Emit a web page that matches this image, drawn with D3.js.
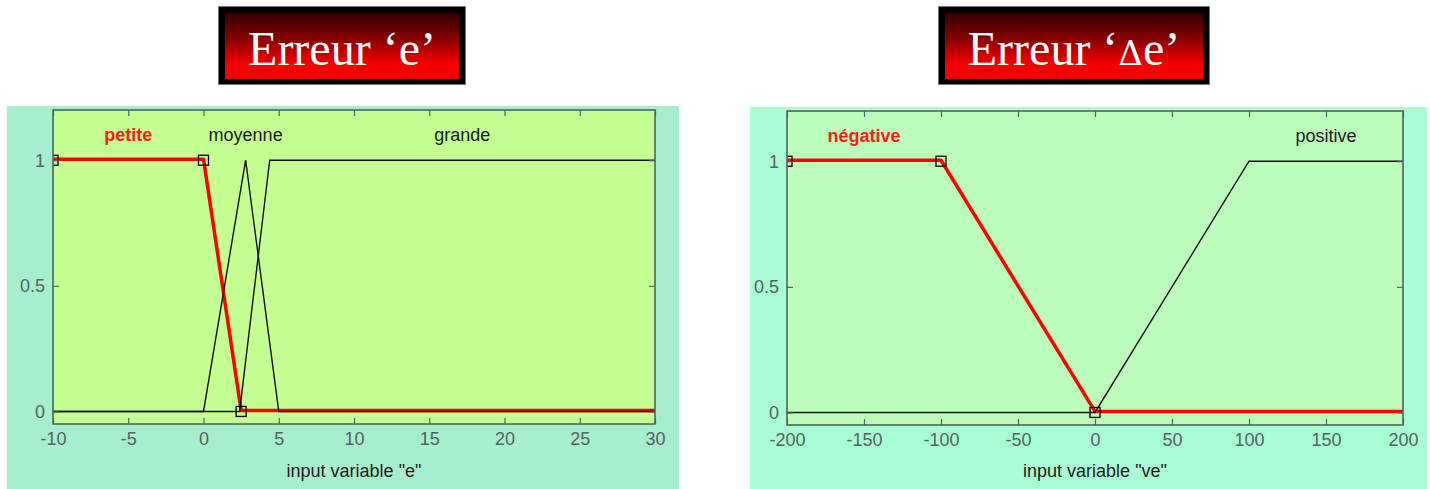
<!DOCTYPE html>
<html>
<head>
<meta charset="utf-8">
<script src="https://cdn.jsdelivr.net/npm/d3@7"></script>
<style>
  html, body { margin: 0; padding: 0; background: #ffffff; }
  svg { display: block; }
</style>
</head>
<body>
<svg id="chart" width="1430" height="489"></svg>
<script>
// ---- Variable "e" ----
const eDomain = [-10, 30];
const eTicks = [-10, -5, 0, 5, 10, 15, 20, 25, 30];
const eSetNames = ["petite", "moyenne", "grande"];
// trapezoid parameters [a, b, c, d]
const eSetParams = [
  [-10, -10, 0, 2.5],
  [0, 2.8, 2.8, 5],
  [2.4, 4.4, 30, 30]
];
const eSelected = 0;

// ---- Variable "ve" ----
const veDomain = [-200, 200];
const veTicks = [-200, -150, -100, -50, 0, 50, 100, 150, 200];
const veSetNames = ["négative", "positive"];
const veSetParams = [
  [-200, -200, -100, 0],
  [0, 100, 200, 200]
];
const veSelected = 0;

const yTicks = [0, 0.5, 1];
const yTickLabels = ["0", "0.5", "1"];

const svg = d3.select("#chart");
const defs = svg.append("defs");

// gradient for title plates
const grad = defs.append("linearGradient")
  .attr("id", "plateGrad").attr("x1", 0).attr("y1", 0).attr("x2", 0).attr("y2", 1);
grad.append("stop").attr("offset", "0%").attr("stop-color", "#320000");
grad.append("stop").attr("offset", "40%").attr("stop-color", "#8a0000");
grad.append("stop").attr("offset", "78%").attr("stop-color", "#f60000");
grad.append("stop").attr("offset", "100%").attr("stop-color", "#f20000");

function titlePlate(x, w, build) {
  const g = svg.append("g");
  g.append("rect").attr("x", x - 0.5).attr("y", 6.5).attr("width", w + 1).attr("height", 78)
    .attr("fill", "none").attr("stroke", "#777").attr("stroke-width", 1);
  g.append("rect").attr("x", x).attr("y", 7).attr("width", w).attr("height", 77).attr("fill", "#000");
  g.append("rect").attr("x", x + 6).attr("y", 13).attr("width", w - 12).attr("height", 66)
    .attr("fill", "url(#plateGrad)");
  const t = g.append("text")
    .attr("x", x + w / 2).attr("y", 65)
    .attr("text-anchor", "middle")
    .attr("font-family", "'Liberation Serif', 'Times New Roman', serif")
    .attr("font-size", 48)
    .attr("fill", "#ffffff");
  build(t);
}

titlePlate(219, 246, t => t.text("Erreur \u2018e\u2019"));
titlePlate(939, 270, t => {
  t.append("tspan").text("Erreur \u2018");
  t.append("tspan").attr("font-size", 34).attr("font-family", "'DejaVu Serif', serif").text("\u0394");
  t.append("tspan").text("e\u2019");
});

function trap(p, x) {
  const [a, b, c, d] = p;
  if (x < a || x > d) return 0;
  if (x >= b && x <= c) return 1;
  if (x < b) return (x - a) / (b - a);
  return (d - x) / (d - c);
}

// breakpoints of a trapezoid spread over the full domain
function trapLine(p, dom) {
  const xs = Array.from(new Set([dom[0], ...p, dom[1]])).sort((m, n) => m - n);
  const [a, b, c, d] = p;
  return xs.map(x => {
    if (x === a && a === b) return [x, 1];
    if (x === c && c === d) return [x, 1];
    return [x, trap(p, x)];
  });
}

function markerPoints(p) {
  const [a, b, c, d] = p;
  const pts = [];
  if (a < b) pts.push([a, 0]);
  pts.push([b, 1]);
  if (c > b) pts.push([c, 1]);
  if (d > c) pts.push([d, 0]);
  return pts;
}

function panel(cfg) {
  const g = svg.append("g");
  g.append("rect").attr("x", cfg.outer.x).attr("y", cfg.outer.y)
    .attr("width", cfg.outer.w).attr("height", cfg.outer.h).attr("fill", cfg.outerFill);

  const p = cfg.plot;
  const x = d3.scaleLinear().domain(cfg.domain).range([p.x, p.x + p.w]);
  const y = d3.scaleLinear().domain([-0.05, 1.2]).range([p.y + p.h, p.y]);

  g.append("rect").attr("x", p.x).attr("y", p.y).attr("width", p.w).attr("height", p.h)
    .attr("fill", cfg.plotFill);

  const clipId = "clip" + cfg.id;
  defs.append("clipPath").attr("id", clipId)
    .append("rect").attr("x", p.x).attr("y", p.y).attr("width", p.w).attr("height", p.h);

  const line = d3.line().x(d => x(d[0])).y(d => y(d[1]));
  const plotG = g.append("g").attr("clip-path", `url(#${clipId})`);

  // selected set in thick red
  plotG.append("path")
    .datum(trapLine(cfg.params[cfg.selected], cfg.domain))
    .attr("d", line)
    .attr("transform", "translate(0,-1)")
    .attr("fill", "none").attr("stroke", "#ff0000").attr("stroke-width", 3.5)
    .attr("stroke-linejoin", "round");

  // other sets in black
  cfg.params.forEach((prm, i) => {
    if (i === cfg.selected) return;
    plotG.append("path")
      .datum(trapLine(prm, cfg.domain))
      .attr("d", line)
      .attr("fill", "none").attr("stroke", "#101010").attr("stroke-width", 1.4);
  });

  // parameter handles of the selected set
  plotG.selectAll("rect.handle")
    .data(markerPoints(cfg.params[cfg.selected]))
    .join("rect").attr("class", "handle")
    .attr("x", d => x(d[0]) - 5).attr("y", d => y(d[1]) - 5)
    .attr("width", 10).attr("height", 10)
    .attr("fill", "none").attr("stroke", "#000").attr("stroke-width", 1.3);

  const font = "'Liberation Sans', Arial, sans-serif";

  // set names placed over each plateau, at height 1.1
  cfg.names.forEach((name, i) => {
    const [a, b, c, d] = cfg.params[i];
    g.append("text")
      .attr("x", x((b + c) / 2)).attr("y", y(1.1))
      .attr("dy", "0.35em")
      .attr("text-anchor", "middle")
      .attr("font-family", font)
      .attr("font-size", 18)
      .attr("font-weight", i === cfg.selected ? "bold" : "normal")
      .attr("fill", i === cfg.selected ? "#ff1a1a" : "#1a1a1a")
      .text(name);
  });

  const axisColor = "#4d6660";
  const labelColor = "#56625f";

  // axes with inward ticks on all four sides
  const bottom = g.append("g").attr("transform", `translate(0,${p.y + p.h})`)
    .call(d3.axisBottom(x).tickValues(cfg.ticks).tickSizeInner(-6).tickSizeOuter(0).tickPadding(8)
      .tickFormat(d => String(d)));
  const top = g.append("g").attr("transform", `translate(0,${p.y})`)
    .call(d3.axisTop(x).tickValues(cfg.ticks).tickSizeInner(-6).tickSizeOuter(0).tickFormat(""));
  const left = g.append("g").attr("transform", `translate(${p.x},0)`)
    .call(d3.axisLeft(y).tickValues(yTicks).tickSizeInner(-6).tickSizeOuter(0).tickPadding(8)
      .tickFormat((d, i) => yTickLabels[i]));
  const right = g.append("g").attr("transform", `translate(${p.x + p.w},0)`)
    .call(d3.axisRight(y).tickValues(yTicks).tickSizeInner(-6).tickSizeOuter(0).tickFormat(""));

  [bottom, top, left, right].forEach(ax => {
    ax.select(".domain").remove();
    ax.selectAll(".tick line").attr("stroke", axisColor).attr("stroke-width", 1.2);
    ax.selectAll(".tick text").attr("fill", labelColor)
      .attr("font-family", font).attr("font-size", 18);
  });

  g.append("rect").attr("x", p.x).attr("y", p.y).attr("width", p.w).attr("height", p.h)
    .attr("fill", "none").attr("stroke", axisColor).attr("stroke-width", 1.6);

  g.append("text")
    .attr("x", p.x + p.w / 2).attr("y", 477)
    .attr("text-anchor", "middle")
    .attr("font-family", font).attr("font-size", 18)
    .attr("fill", "#1c1c1c")
    .text(cfg.xLabel);
}

panel({
  id: "E",
  outer: { x: 7, y: 106, w: 672, h: 383 },
  plot: { x: 53, y: 110, w: 602, h: 314 },
  outerFill: "#a7eecf",
  plotFill: "#c4fe92",
  domain: eDomain, ticks: eTicks,
  names: eSetNames, params: eSetParams, selected: eSelected,
  xLabel: 'input variable "e"'
});

panel({
  id: "VE",
  outer: { x: 750, y: 107, w: 677, h: 382 },
  plot: { x: 787, y: 111, w: 616, h: 314 },
  outerFill: "#a9fdd5",
  plotFill: "#bdfdbc",
  domain: veDomain, ticks: veTicks,
  names: veSetNames, params: veSetParams, selected: veSelected,
  xLabel: 'input variable "ve"'
});
</script>
</body>
</html>
